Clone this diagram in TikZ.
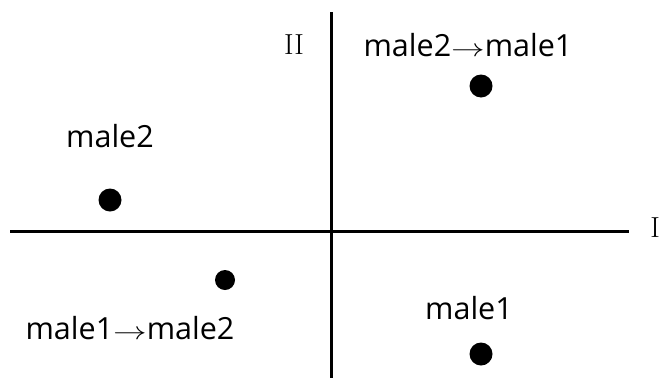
\documentclass[tikz,border=0pt]{standalone}
\usepackage{fontspec}
\setmainfont{Open Sans}
\usetikzlibrary{positioning}
\newcommand{\toarrow}{\scalebox{1.35}[1]{$\rightarrow$}}
\tikzset{
  axis/.style={line width=3pt, black},
  dot/.style={circle, fill=black, inner sep=0pt, minimum size=#1},
  dot/.default=23pt,
  lbl/.style={font=\fontsize{30.5}{34}\selectfont, inner sep=0pt},
  numeral/.style={font=\fontfamily{lmr}\fontsize{29}{32}\selectfont, inner sep=0pt},
}
\begin{document}
\begin{tikzpicture}[x=1pt, y=-1pt]
  \useasboundingbox (0,0) rectangle (663,378);
  % axes
  \coordinate (xl) at (10,231);
  \coordinate (xr) at (629,231);
  \coordinate (yt) at (331,12);
  \coordinate (yb) at (331,378);
  \draw[axis] (xl) -- (xr);
  \draw[axis] (yt) -- (yb);
  \node[numeral] (nI) at (655,228) {I};
  \node[numeral] (nII) at (294,45) {II};

  % points
  \node[dot] (p21) at (481,86) {};
  \node[dot] (p2) at (110,200) {};
  \node[dot=20pt] (p12) at (225,280) {};
  \node[dot] (p1) at (481,354) {};

  % labels
  \node[lbl] (l21) at (468,45) {male2\toarrow male1};
  \node[lbl] (l2) at (110,136) {male2};
  \node[lbl] (l12) at (130,328) {male1\toarrow male2};
  \node[lbl] (l1) at (469,308) {male1};
\end{tikzpicture}
\end{document}
